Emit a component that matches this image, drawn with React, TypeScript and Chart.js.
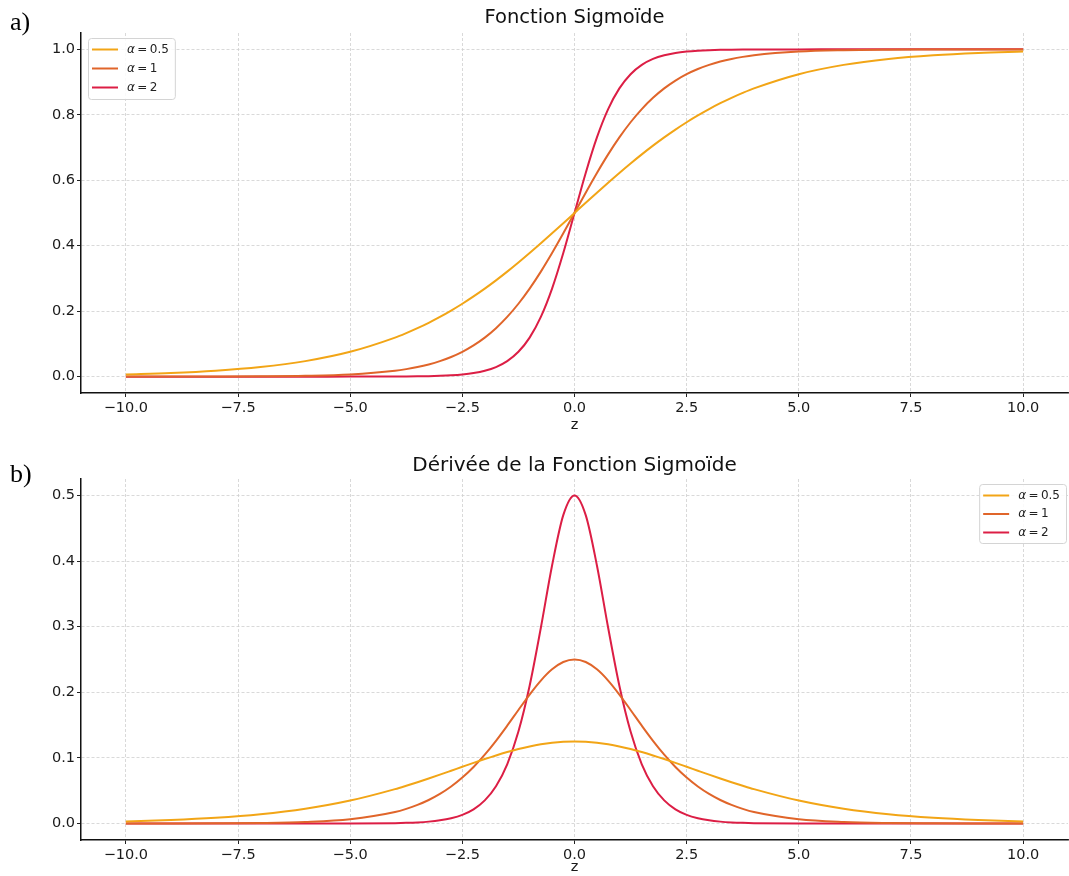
import React, { useEffect, useRef } from 'react';
import { Chart, registerables } from 'chart.js';

Chart.register(...registerables);

// ---------- data ----------
const Z = [-10, -9, -8, -7, -6, -5, -4, -3.75, -3.5, -3.25, -3, -2.75, -2.5, -2.25, -2, -1.75, -1.5, -1.25, -1, -0.75, -0.5, -0.25, 0, 0.25, 0.5, 0.75, 1, 1.25, 1.5, 1.75, 2, 2.25, 2.5, 2.75, 3, 3.25, 3.5, 3.75, 4, 5, 6, 7, 8, 9, 10];

const SIG_05 = [0.00669, 0.01099, 0.01799, 0.02931, 0.04743, 0.07586, 0.1192, 0.13296, 0.14805, 0.16452, 0.18243, 0.20182, 0.2227, 0.24509, 0.26894, 0.29421, 0.32082, 0.34865, 0.37754, 0.40733, 0.43782, 0.46879, 0.5, 0.53121, 0.56218, 0.59267, 0.62246, 0.65135, 0.67918, 0.70579, 0.73106, 0.75491, 0.7773, 0.79818, 0.81757, 0.83548, 0.85195, 0.86704, 0.8808, 0.92414, 0.95257, 0.97069, 0.98201, 0.98901, 0.99331];
const SIG_1 = [0.00005, 0.00012, 0.00034, 0.00091, 0.00247, 0.00669, 0.01799, 0.02298, 0.02931, 0.03733, 0.04743, 0.06009, 0.07586, 0.09535, 0.1192, 0.14805, 0.18243, 0.2227, 0.26894, 0.32082, 0.37754, 0.43782, 0.5, 0.56218, 0.62246, 0.67918, 0.73106, 0.7773, 0.81757, 0.85195, 0.8808, 0.90465, 0.92414, 0.93991, 0.95257, 0.96267, 0.97069, 0.97702, 0.98201, 0.99331, 0.99753, 0.99909, 0.99966, 0.99988, 0.99995];
const SIG_2 = [0, 0, 0, 0, 0.00001, 0.00005, 0.00034, 0.00055, 0.00091, 0.0015, 0.00247, 0.00407, 0.00669, 0.01099, 0.01799, 0.02931, 0.04743, 0.07586, 0.1192, 0.18243, 0.26894, 0.37754, 0.5, 0.62246, 0.73106, 0.81757, 0.8808, 0.92414, 0.95257, 0.97069, 0.98201, 0.98901, 0.99331, 0.99593, 0.99753, 0.9985, 0.99909, 0.99945, 0.99966, 0.99995, 0.99999, 1, 1, 1, 1];

const DER_05 = [0.00332, 0.00544, 0.00883, 0.01423, 0.02259, 0.03505, 0.0525, 0.05764, 0.06307, 0.06873, 0.07458, 0.08055, 0.08655, 0.09251, 0.09831, 0.10383, 0.10895, 0.11355, 0.1175, 0.12071, 0.12307, 0.12452, 0.125, 0.12452, 0.12307, 0.12071, 0.1175, 0.11355, 0.10895, 0.10383, 0.09831, 0.09251, 0.08655, 0.08055, 0.07458, 0.06873, 0.06307, 0.05764, 0.0525, 0.03505, 0.02259, 0.01423, 0.00883, 0.00544, 0.00332];
const DER_1 = [0.00005, 0.00012, 0.00034, 0.00091, 0.00247, 0.00665, 0.01767, 0.02245, 0.02845, 0.03594, 0.04518, 0.05648, 0.0701, 0.08626, 0.10499, 0.12613, 0.14915, 0.1731, 0.19661, 0.21789, 0.235, 0.24613, 0.25, 0.24613, 0.235, 0.21789, 0.19661, 0.1731, 0.14915, 0.12613, 0.10499, 0.08626, 0.0701, 0.05648, 0.04518, 0.03594, 0.02845, 0.02245, 0.01767, 0.00665, 0.00247, 0.00091, 0.00034, 0.00012, 0.00005];
const DER_2 = [0, 0, 0, 0, 0.00001, 0.00009, 0.00067, 0.0011, 0.00182, 0.003, 0.00493, 0.0081, 0.0133, 0.02174, 0.03534, 0.0569, 0.09036, 0.1402, 0.20998, 0.2983, 0.39322, 0.47, 0.5, 0.47, 0.39322, 0.2983, 0.20998, 0.1402, 0.09036, 0.0569, 0.03534, 0.02174, 0.0133, 0.0081, 0.00493, 0.003, 0.00182, 0.0011, 0.00067, 0.00009, 0.00001, 0, 0, 0, 0];

const ALPHAS = ['0.5', '1', '2'];
const COLORS = ['#F2A516', '#E0652A', '#DC1E45'];
const X_TICKS = [-10, -7.5, -5, -2.5, 0, 2.5, 5, 7.5, 10];
const Y_TICKS_TOP = [0, 0.2, 0.4, 0.6, 0.8, 1.0];
const Y_TICKS_BOTTOM = [0, 0.1, 0.2, 0.3, 0.4, 0.5];
const TITLE_TOP = 'Fonction Sigmoïde';
const TITLE_BOTTOM = 'Dérivée de la Fonction Sigmoïde';
const X_LABEL = 'z';

const FONT = '"DejaVu Sans", sans-serif';
const W = 1069;
const H = 438;

const fmt = (v: number) => v.toFixed(1).replace('-', '\u2212');

const titlePlugin = {
  id: 'topTitle',
  afterDraw(chart: any, _a: any, opts: any) {
    const { ctx, chartArea } = chart;
    ctx.save();
    ctx.font = `${opts.size}px ${FONT}`;
    ctx.fillStyle = '#111';
    ctx.textAlign = 'center';
    ctx.textBaseline = 'middle';
    ctx.fillText(opts.text, (chartArea.left + chartArea.right) / 2, opts.y);
    ctx.restore();
  },
};

const legendPlugin = {
  id: 'boxLegend',
  afterDatasetsDraw(chart: any, _a: any, opts: any) {
    const { ctx, chartArea } = chart;
    const ds = chart.data.datasets;
    ctx.save();
    const italic = `italic 12px ${FONT}`;
    const normal = `12px ${FONT}`;
    const parts = ds.map((d: any) => {
      const rest = '\u2009=\u2009' + d.alphaValue;
      ctx.font = italic;
      const wa = ctx.measureText('α').width;
      ctx.font = normal;
      const wr = ctx.measureText(rest).width;
      return { rest, wa, w: wa + wr };
    });
    const maxW = Math.max(...parts.map((p: any) => p.w));
    const w = 39 + maxW + 6;
    const h = opts.height;
    const x = opts.corner === 'tl' ? chartArea.left + 7 : chartArea.right - 2 - w;
    const y = chartArea.top + 5;
    ctx.beginPath();
    ctx.roundRect(x + 0.5, y + 0.5, w, h, 3);
    ctx.fillStyle = 'rgba(255,255,255,0.85)';
    ctx.fill();
    ctx.strokeStyle = '#d4d4d4';
    ctx.lineWidth = 1;
    ctx.stroke();
    ds.forEach((d: any, i: number) => {
      const ry = y + 11.5 + i * opts.gap;
      ctx.beginPath();
      ctx.moveTo(x + 4, ry);
      ctx.lineTo(x + 30, ry);
      ctx.strokeStyle = d.borderColor;
      ctx.lineWidth = 2;
      ctx.stroke();
      ctx.fillStyle = '#222';
      ctx.textBaseline = 'middle';
      ctx.textAlign = 'left';
      ctx.font = italic;
      ctx.fillText('α', x + 39, ry);
      ctx.font = normal;
      ctx.fillText(parts[i].rest, x + 39 + parts[i].wa, ry);
    });
    ctx.restore();
  },
};

function makeConfig(series: number[][], yTicks: number[], yMin: number, yMax: number, padTop: number, xAxisH: number, zPad: number, title: string, titleY: number, titleSize: number, corner: string, gap: number, legendH: number): any {
  return {
    type: 'line',
    data: {
      datasets: series.map((s, i) => ({
        label: 'α = ' + ALPHAS[i],
        alphaValue: ALPHAS[i],
        data: Z.map((z, k) => ({ x: z, y: s[k] })),
        borderColor: COLORS[i],
        backgroundColor: COLORS[i],
        borderWidth: 2,
        pointRadius: 0,
        fill: false,
        cubicInterpolationMode: 'monotone',
      })),
    },
    options: {
      responsive: false,
      animation: false,
      devicePixelRatio: 1,
      layout: { padding: { top: padTop, right: 1, left: 0, bottom: 0 } },
      plugins: {
        legend: { display: false },
        title: { display: false },
        tooltip: { enabled: false },
        topTitle: { text: title, y: titleY, size: titleSize },
        boxLegend: { corner, gap, height: legendH },
      },
      scales: {
        x: {
          type: 'linear',
          min: -11,
          max: 11,
          afterBuildTicks: (s: any) => { s.ticks = X_TICKS.map((v) => ({ value: v })); },
          afterFit: (s: any) => { s.height = xAxisH; },
          ticks: {
            callback: (v: any) => fmt(Number(v)),
            font: { family: FONT, size: 14.5 },
            color: '#1a1a1a',
            padding: 3,
            maxRotation: 0,
            autoSkip: false,
          },
          grid: {
            color: '#cfcfcf',
            lineWidth: 0.8,
            tickLength: 4,
            tickColor: '#222',
            tickWidth: 1,
          },
          border: { display: true, color: '#111', width: 1.5, dash: [3, 2] },
          title: {
            display: true,
            text: X_LABEL,
            font: { family: FONT, size: 14.5 },
            color: '#1a1a1a',
            padding: { top: 0, bottom: zPad },
          },
        },
        y: {
          type: 'linear',
          min: yMin,
          max: yMax,
          afterBuildTicks: (s: any) => { s.ticks = yTicks.map((v) => ({ value: v })); },
          afterFit: (s: any) => { s.width = 81; },
          ticks: {
            callback: (v: any) => fmt(Number(v)),
            font: { family: FONT, size: 14.5 },
            color: '#1a1a1a',
            padding: 2,
          },
          grid: {
            color: '#cfcfcf',
            lineWidth: 0.8,
            tickLength: 4,
            tickColor: '#222',
            tickWidth: 1,
          },
          border: { display: true, color: '#111', width: 1.5, dash: [3, 2] },
        },
      },
    },
    plugins: [titlePlugin, legendPlugin],
  };
}

function ChartCanvas({ config }: { config: any }) {
  const ref = useRef<HTMLCanvasElement | null>(null);
  useEffect(() => {
    if (!ref.current) return;
    const chart = new Chart(ref.current, config);
    return () => chart.destroy();
  }, [config]);
  return <canvas ref={ref} width={W} height={H} style={{ display: 'block', width: W, height: H }} />;
}

const topConfig = makeConfig([SIG_05, SIG_1, SIG_2], Y_TICKS_TOP, -0.05, 1.05, 33, 45, 4, TITLE_TOP, 18, 19.5, 'tl', 19, 61);
const bottomConfig = makeConfig([DER_05, DER_1, DER_2], Y_TICKS_BOTTOM, -0.025, 0.525, 41, 36, 0, TITLE_BOTTOM, 28, 20, 'tr', 18.5, 59);

export default function App() {
  const labelStyle: React.CSSProperties = {
    position: 'absolute',
    left: 10,
    fontFamily: '"Liberation Serif", "Times New Roman", serif',
    fontSize: 26,
    lineHeight: '26px',
    color: '#000',
  };
  return (
    <div style={{ position: 'absolute', left: 0, top: 0, width: W, height: 876, background: '#fff', overflow: 'hidden' }}>
      <ChartCanvas config={topConfig} />
      <ChartCanvas config={bottomConfig} />
      <div style={{ ...labelStyle, top: 9 }}>a)</div>
      <div style={{ ...labelStyle, top: 461 }}>b)</div>
    </div>
  );
}
